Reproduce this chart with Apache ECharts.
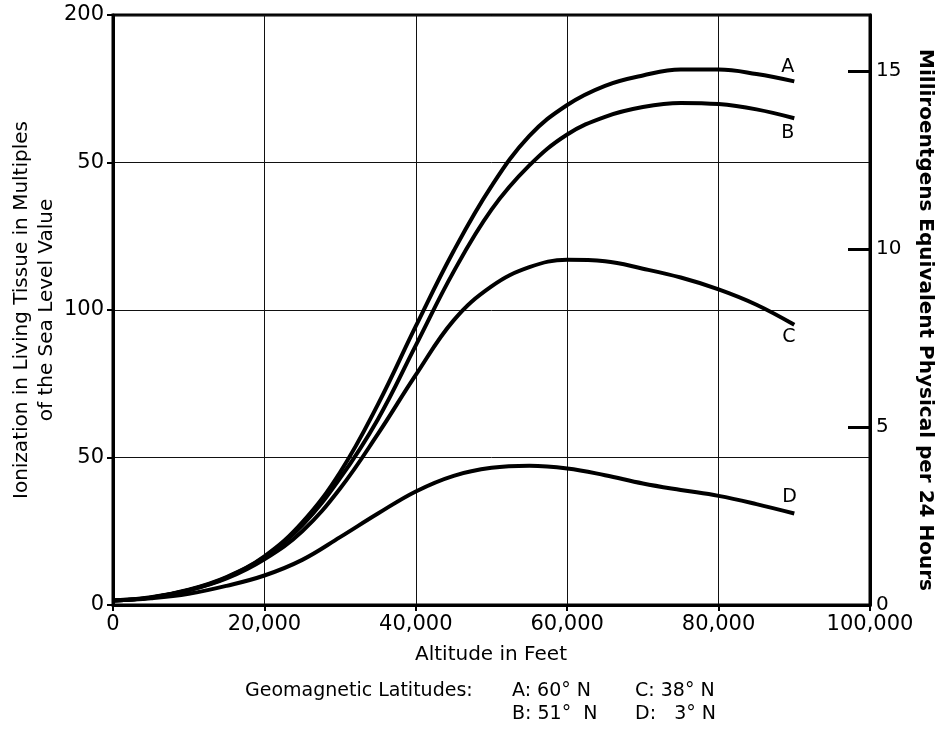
<!DOCTYPE html>
<html>
<head>
<meta charset="utf-8">
<script src="https://cdn.jsdelivr.net/npm/echarts@6/dist/echarts.min.js"></script>
<style>
html,body{margin:0;padding:0;background:#fff;}
#chart{width:945px;height:740px;}
</style>
</head>
<body>
<div id="chart"></div>
<script>
// ---- data ----
const altitude = [0,5000,10000,15000,20000,25000,30000,35000,40000,45000,50000,55000,60000,65000,70000,75000,80000,85000,90000];
const curveA = [1.5,2.6,5.2,9.5,16.5,28,45,68,94.5,120,142,159,169.5,176,179.5,181.5,181.5,180,177.5];
const curveB = [1.5,2.5,5.0,9.3,16.2,27,43,63,88,113,134,149,159.5,165.5,168.8,170.2,169.8,168,165];
const curveC = [1.5,2.5,5.0,9.0,15.5,25,39.5,58,78,96.5,108,114.5,117,116.5,114,111,107,101.8,95];
const curveD = [1.5,2.3,3.8,6.5,10,15.3,23,31,38.5,43.8,46.5,47.2,46.3,44,41.2,39,37,34.2,31];
const curveNames = ['A','B','C','D'];
const leftTickLabels = ['0','50','100','50','200'];   // as printed on the original
const rightTicks = [0,5,10,15];
const xTickLabels = ['0','20,000','40,000','60,000','80,000','100,000'];
const leftTitle = ['Ionization in Living Tissue in Multiples','of the Sea Level Value'];
const rightTitle = 'Milliroentgens Equivalent Physical per 24 Hours';
const xTitle = 'Altitude in Feet';
const legendHead = 'Geomagnetic Latitudes:';
const legendItems = [['A: 60° N','C: 38° N'],['B: 51°  N','D:   3° N']];

const FONT = '"DejaVu Sans", sans-serif';
const chart = echarts.init(document.getElementById('chart'), null, {renderer:'canvas'});

function pairs(ys){ return ys.map((y,i)=>[altitude[i], y]); }
const labelOffsets = [[-21,-14],[-21,15],[-20,12],[-20,-16]];
const allCurves = [curveA, curveB, curveC, curveD];

const series = allCurves.map((c, k) => ({
  type:'line',
  name: curveNames[k],
  data: pairs(c),
  smooth: 0.4,
  showSymbol: false,
  symbol: 'none',
  lineStyle: {color:'#000', width:4},
  endLabel: {show:true, formatter: curveNames[k], color:'#000', fontFamily: FONT, fontSize: 19, offset: labelOffsets[k]},
  z: 5
}));

const option = {
  animation: false,
  backgroundColor: '#fff',
  grid: {left:113, right:75, top:15, bottom:135, show:true, borderColor:'#000', borderWidth:3, backgroundColor:'transparent'},
  xAxis: {
    type:'value', min:0, max:100000, interval:20000,
    axisLine:{show:true, lineStyle:{color:'#000', width:3}},
    axisTick:{show:true, length:6, lineStyle:{color:'#000', width:2}},
    axisLabel:{color:'#000', fontFamily:FONT, fontSize:21, margin:9,
      formatter:(v)=> xTickLabels[Math.round(v/20000)]},
    splitLine:{show:true, lineStyle:{color:'#111', width:1}}
  },
  yAxis: [
    {
      type:'value', min:0, max:200, interval:50,
      axisLine:{show:true, lineStyle:{color:'#000', width:3}},
      axisTick:{show:true, length:6, lineStyle:{color:'#000', width:2}},
      axisLabel:{color:'#000', fontFamily:FONT, fontSize:21, margin:9,
        formatter:(v)=> leftTickLabels[Math.round(v/50)]},
      splitLine:{show:true, lineStyle:{color:'#111', width:1}}
    },
    {
      type:'value', min:0, max:16.57, position:'right',
      axisLine:{show:true, lineStyle:{color:'#000', width:3}},
      axisTick:{show:true, inside:true, length:22, customValues: rightTicks, lineStyle:{color:'#000', width:3}},
      axisLabel:{color:'#000', fontFamily:FONT, fontSize:20, margin:6, customValues: rightTicks,
        formatter:(v)=> String(v)},
      splitLine:{show:false}
    }
  ],
  series: series,
  graphic: [
    {type:'text', x:22, y:310, rotation:Math.PI/2,
      style:{text:leftTitle[0], font:'20px '+FONT, fill:'#000', textAlign:'center', textVerticalAlign:'middle'}},
    {type:'text', x:47, y:310, rotation:Math.PI/2,
      style:{text:leftTitle[1], font:'20px '+FONT, fill:'#000', textAlign:'center', textVerticalAlign:'middle'}},
    {type:'text', x:925, y:320, rotation:-Math.PI/2,
      style:{text:rightTitle, font:'bold 20px '+FONT, fill:'#000', textAlign:'center', textVerticalAlign:'middle'}},
    {type:'text', x:491, y:655,
      style:{text:xTitle, font:'20px '+FONT, fill:'#000', textAlign:'center', textVerticalAlign:'middle'}},
    {type:'text', x:245, y:691,
      style:{text:legendHead, font:'19px '+FONT, fill:'#000', textAlign:'left', textVerticalAlign:'middle'}},
    {type:'text', x:512, y:691,
      style:{text:legendItems[0][0], font:'19px '+FONT, fill:'#000', textAlign:'left', textVerticalAlign:'middle'}},
    {type:'text', x:635, y:691,
      style:{text:legendItems[0][1], font:'19px '+FONT, fill:'#000', textAlign:'left', textVerticalAlign:'middle'}},
    {type:'text', x:512, y:714,
      style:{text:legendItems[1][0], font:'19px '+FONT, fill:'#000', textAlign:'left', textVerticalAlign:'middle'}},
    {type:'text', x:635, y:714,
      style:{text:legendItems[1][1], font:'19px '+FONT, fill:'#000', textAlign:'left', textVerticalAlign:'middle'}}
  ]
};
chart.setOption(option);
</script>
</body>
</html>
